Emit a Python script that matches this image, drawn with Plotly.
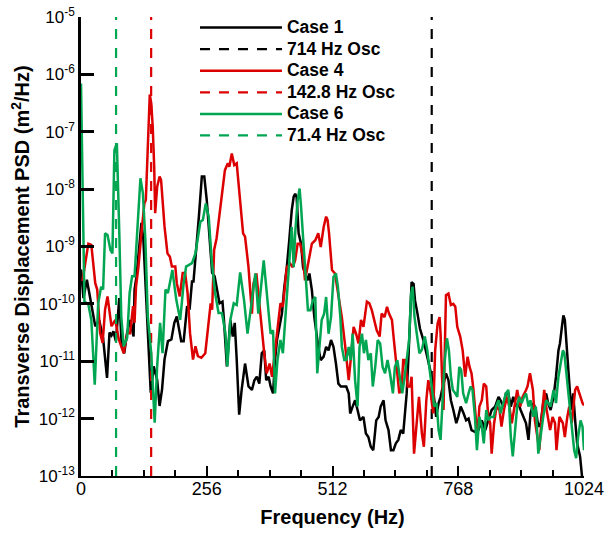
import numpy as np
import plotly.graph_objects as go

# ---------------- data (PSD given as log10 exponents) ----------------
case1_freq = [0, 5, 12, 19, 29, 37, 45, 53, 58, 62, 66, 71, 78, 83, 88, 94, 100, 107, 109, 113, 117, 123, 127, 132, 136,
              142, 148, 155, 160, 165, 170, 177, 184, 190, 195, 204, 209, 216, 221, 226, 229, 234, 240, 246, 251, 256,
              262, 267, 272, 282, 288, 291, 297, 304, 309, 313, 317, 322, 327, 334, 341, 348, 353, 358, 363, 368, 373,
              377, 382, 386, 391, 395, 399, 404, 409, 414, 419, 424, 429, 433, 436, 439, 443, 448, 452, 456, 461, 465,
              470, 475, 479, 483, 488, 494, 499, 504, 509, 514, 519, 524, 529, 534, 540, 545, 548, 553, 558, 563, 568,
              575, 580, 585, 590, 595, 601, 606, 610, 616, 620, 626, 631, 636, 641, 646, 651, 656, 660, 663, 667, 670,
              673, 677, 680, 685, 690, 697, 704, 711, 717, 723, 728, 732, 738, 743, 748, 753, 758, 764, 768, 773, 779,
              784, 789, 795, 802, 809, 816, 823, 829, 836, 843, 850, 854, 860, 865, 870, 875, 880, 886, 890, 895, 901,
              906, 911, 915, 921, 926, 931, 936, 941, 947, 951, 956, 962, 967, 972, 975, 979, 982, 985, 989, 992, 996,
              999, 1002, 1006, 1010, 1016, 1021]
case1_log10_psd = [-9.4, -9.9, -9.58, -9.93, -10.39, -10.28, -10.6, -11.29, -10.5, -10.55, -10.48, -10.65, -9.9, -10.74,
                   -10.86, -10.5, -10.28, -10.57, -9.75, -9.52, -9.12, -8.59, -8.88, -9.75, -10.28, -11.55, -11.09,
                   -11.32, -11.78, -11.49, -10.97, -10.65, -10.62, -10.33, -10.22, -10.65, -10.65, -10.04, -10.1, -9.61,
                   -9.61, -9.12, -8.48, -7.78, -7.78, -8.19, -8.88, -9.46, -9.52, -9.99, -9.96, -10.28, -11.09, -10.28,
                   -10.57, -10.33, -10.97, -11.93, -11.5, -11.04, -11.44, -11.5, -11.33, -11.27, -11.39, -10.86, -10.81,
                   -11.33, -11.27, -11.44, -11.56, -10.98, -10.63, -10.4, -10.17, -9.7, -9.36, -8.89, -8.37, -8.13,
                   -8.08, -8.14, -8.77, -8.95, -9.36, -9.47, -9.59, -9.47, -9.76, -10.23, -10.52, -10.75, -10.98,
                   -10.92, -10.75, -10.81, -10.63, -10.75, -11.04, -11.39, -11.44, -11.44, -11.44, -11.56, -11.91,
                   -11.79, -11.68, -11.85, -12.03, -11.97, -12.26, -12.32, -12.49, -12.55, -12.03, -11.97, -11.79,
                   -11.68, -12.03, -12.2, -12.55, -12.55, -12.43, -12.37, -12.2, -12.26, -11.91, -11.56, -10.86,
                   -10.17, -9.62, -9.65, -9.94, -10.17, -10.43, -10.63, -10.92, -11.15, -11.5, -11.97, -11.73, -11.62,
                   -11.39, -11.21, -11.33, -11.68, -11.85, -12.08, -11.97, -11.79, -11.91, -12.03, -12.0, -12.2,
                   -12.23, -12.2, -12.03, -12.2, -12.03, -11.85, -11.79, -11.62, -11.68, -11.79, -11.56, -11.56,
                   -11.79, -11.62, -11.79, -11.73, -11.85, -11.97, -12.08, -12.37, -11.91, -11.73, -11.85, -12.14,
                   -12.08, -11.73, -11.56, -11.73, -11.85, -11.62, -11.27, -10.81, -10.69, -10.4, -10.2, -10.28,
                   -10.75, -11.27, -11.62, -11.85, -11.56, -12.03, -12.43, -12.66, -13.1]

case4_freq = [3, 9, 15, 21, 29, 33, 39, 44, 49, 54, 58, 62, 66, 70, 77, 82, 87, 94, 100, 106, 109, 112, 117, 123, 129,
              132, 136, 140, 143, 146, 149, 151, 155, 160, 163, 166, 170, 176, 181, 185, 192, 195, 201, 207, 212, 217,
              222, 228, 233, 238, 245, 253, 260, 264, 267, 269, 271, 276, 281, 288, 293, 299, 302, 307, 312, 317, 322,
              327, 330, 334, 341, 348, 351, 357, 361, 368, 373, 378, 384, 389, 393, 399, 406, 411, 419, 426, 431, 436,
              441, 446, 452, 456, 460, 465, 470, 477, 483, 488, 494, 499, 502, 505, 511, 517, 524, 531, 538, 545, 549,
              555, 560, 565, 570, 575, 582, 587, 592, 597, 602, 608, 612, 618, 623, 627, 633, 637, 643, 648, 653, 656,
              660, 665, 670, 673, 678, 684, 688, 694, 698, 703, 707, 712, 717, 721, 726, 730, 732, 735, 738, 743, 748,
              753, 758, 762, 766, 772, 777, 782, 787, 791, 795, 799, 802, 807, 811, 816, 820, 825, 829, 833, 836, 841,
              846, 852, 856, 861, 867, 872, 877, 882, 888, 894, 899, 906, 909, 914, 920, 924, 929, 933, 938, 943, 948,
              955, 960, 965, 968, 974, 981, 985, 990, 994, 999, 1006, 1010, 1016, 1021, 1024]
case4_log10_psd = [-9.6, -9.3, -8.95, -8.97, -9.64, -9.75, -10.51, -10.68, -10.1, -9.87, -10.1, -10.39, -10.33, -10.28,
                   -10.62, -10.74, -10.86, -10.51, -10.51, -10.04, -10.33, -9.7, -9.35, -8.77, -8.25, -8.19, -7.32,
                   -6.35, -6.5, -6.91, -7.61, -8.42, -7.96, -7.78, -7.84, -8.19, -8.65, -9.12, -9.18, -9.35, -9.35,
                   -9.64, -9.87, -9.46, -9.46, -9.81, -10.51, -10.97, -10.74, -10.91, -10.94, -10.86, -10.28, -9.99,
                   -10.1, -9.6, -9.06, -8.86, -8.48, -7.96, -7.67, -7.55, -7.61, -7.38, -7.58, -7.55, -8.0, -8.48,
                   -8.77, -8.83, -9.36, -10.17, -9.65, -9.47, -9.82, -10.52, -10.86, -11.21, -11.04, -11.27, -10.98,
                   -10.52, -9.99, -10.05, -9.36, -9.3, -9.36, -9.24, -8.95, -8.95, -9.18, -9.59, -9.41, -9.18, -8.95,
                   -8.89, -8.77, -9.01, -8.66, -8.48, -8.54, -8.77, -9.41, -9.47, -9.82, -10.23, -10.75, -11.33,
                   -10.98, -10.4, -10.52, -10.69, -10.28, -10.4, -9.96, -9.99, -10.11, -10.28, -10.46, -10.57, -10.17,
                   -10.23, -10.05, -10.17, -10.28, -10.63, -11.1, -11.56, -11.44, -10.98, -10.98, -11.44, -11.44,
                   -11.27, -12.61, -12.03, -11.62, -12.26, -12.49, -11.68, -11.33, -11.56, -11.91, -10.81, -10.34,
                   -10.23, -10.52, -11.27, -11.85, -9.85, -9.82, -10.02, -10.0, -10.05, -10.4, -10.57, -10.81, -11.27,
                   -10.92, -11.1, -11.21, -11.5, -11.85, -12.32, -11.79, -11.68, -11.39, -11.44, -11.97, -12.08,
                   -12.61, -12.08, -11.79, -11.85, -12.14, -11.85, -11.62, -11.79, -12.08, -11.79, -11.5, -11.79,
                   -11.62, -11.5, -11.44, -11.21, -11.5, -12.03, -12.37, -12.55, -11.97, -11.5, -11.85, -12.2, -11.97,
                   -12.08, -12.55, -11.97, -12.08, -12.32, -11.97, -11.79, -12.08, -11.5, -11.44, -11.62, -11.73,
                   -11.77]

case6_freq = [0, 3, 7, 15, 21, 28, 35, 41, 45, 49, 54, 60, 64, 68, 73, 78, 82, 87, 94, 99, 104, 109, 114, 121, 126, 131,
              136, 143, 150, 155, 161, 166, 172, 177, 186, 194, 202, 209, 214, 226, 233, 243, 248, 254, 260, 266, 273,
              280, 287, 294, 298, 304, 311, 317, 324, 332, 339, 348, 355, 361, 366, 372, 377, 382, 386, 391, 395, 400,
              406, 411, 416, 420, 424, 429, 433, 436, 441, 445, 448, 453, 458, 462, 467, 472, 477, 481, 486, 490, 495,
              499, 504, 509, 514, 519, 523, 528, 531, 536, 540, 545, 549, 553, 558, 563, 567, 572, 576, 580, 585, 590,
              594, 599, 604, 609, 614, 619, 624, 629, 635, 639, 644, 650, 654, 658, 663, 668, 672, 675, 679, 684, 689,
              694, 700, 705, 711, 715, 719, 724, 728, 732, 736, 740, 745, 749, 753, 757, 762, 766, 770, 774, 778, 784,
              789, 793, 797, 802, 806, 811, 816, 820, 825, 829, 834, 840, 845, 850, 854, 860, 865, 870, 875, 879, 884,
              888, 892, 897, 902, 906, 911, 915, 921, 926, 931, 936, 941, 947, 951, 956, 962, 967, 972, 977, 981, 984,
              989, 993, 998, 1001, 1004, 1008, 1012, 1017, 1021, 1024]
case6_log10_psd = [-6.16, -7.6, -9.96, -10.01, -10.28, -11.41, -9.99, -9.7, -9.75, -8.77, -8.8, -9.06, -9.12, -7.32,
                   -7.2, -8.77, -10.22, -10.74, -10.59, -9.81, -9.52, -9.52, -8.77, -7.81, -8.07, -8.88, -10.22,
                   -10.86, -12.07, -11.09, -10.33, -10.86, -9.75, -9.81, -9.41, -9.93, -10.28, -9.64, -9.35, -9.29,
                   -9.12, -8.57, -8.54, -8.25, -8.48, -9.23, -9.81, -10.16, -10.16, -10.51, -11.09, -10.28, -9.99,
                   -10.02, -9.45, -9.94, -10.52, -9.94, -9.47, -10.17, -9.7, -9.24, -9.7, -10.17, -10.52, -10.46,
                   -11.56, -10.98, -10.63, -10.86, -10.23, -9.7, -9.24, -8.66, -9.36, -8.77, -8.19, -7.99, -8.31,
                   -8.95, -9.76, -10.11, -10.11, -9.94, -9.88, -11.21, -10.69, -10.28, -10.17, -9.88, -10.52, -10.23,
                   -9.53, -9.47, -9.7, -10.23, -10.75, -10.98, -10.98, -10.75, -10.98, -10.52, -11.33, -11.79, -10.75,
                   -10.52, -10.86, -10.63, -10.98, -10.86, -11.44, -11.1, -10.63, -10.69, -11.1, -11.21, -10.98,
                   -11.21, -11.56, -11.1, -10.98, -11.39, -11.56, -11.33, -10.98, -10.63, -9.82, -9.7, -10.23, -10.52,
                   -10.86, -10.8, -10.57, -10.81, -11.27, -11.56, -11.79, -11.73, -12.2, -12.37, -11.62, -11.04, -10.6,
                   -10.81, -11.27, -11.5, -11.56, -11.62, -11.1, -11.15, -11.56, -11.73, -11.56, -11.44, -11.5,
                   -11.97, -12.55, -11.97, -12.14, -12.43, -11.85, -12.03, -11.97, -11.97, -11.79, -11.68, -11.91,
                   -11.73, -11.56, -11.5, -12.32, -12.66, -12.08, -11.79, -11.62, -11.73, -11.62, -11.56, -11.79,
                   -11.68, -11.97, -11.79, -12.61, -12.26, -11.97, -11.68, -11.73, -11.79, -11.5, -11.73, -11.27,
                   -11.04, -10.81, -10.86, -11.27, -11.62, -11.97, -12.2, -12.55, -12.69, -12.32, -12.03, -12.14,
                   -12.55]

osc_freqs = [714.0, 142.8, 71.4]
osc_labels = ["714 Hz Osc", "142.8 Hz Osc", "71.4 Hz Osc"]
case_labels = ["Case 1", "Case 4", "Case 6"]

x_ticks = [0, 256, 512, 768, 1024]
x_minor_ticks = [64, 128, 192, 320, 384, 448, 576, 640, 704, 832, 896, 960]
y_exponents = [-13, -12, -11, -10, -9, -8, -7, -6, -5]

# ---------------- figure ----------------
BLACK = "#000000"
RED = "#dd0000"
GREEN = "#00a651"
FONT = "Arial, Liberation Sans, sans-serif"


def legend_name(text):
    return '<span style="font-size:17.5px">%s</span>' % text


y_lo, y_hi = 10.0 ** y_exponents[0], 10.0 ** y_exponents[-1]

fig = go.Figure()
series = [
    (case1_freq, case1_log10_psd, case_labels[0], osc_freqs[0], osc_labels[0], BLACK),
    (case4_freq, case4_log10_psd, case_labels[1], osc_freqs[1], osc_labels[1], RED),
    (case6_freq, case6_log10_psd, case_labels[2], osc_freqs[2], osc_labels[2], GREEN),
]
for fr, lg, name, fo, oname, col in series:
    fig.add_trace(go.Scatter(x=fr, y=np.power(10.0, lg), mode="lines", name=legend_name(name),
                             line=dict(color=col, width=2.5)))
    fig.add_trace(go.Scatter(x=[fo, fo], y=[y_lo, y_hi], mode="lines", name=legend_name(oname),
                             line=dict(color=col, width=2.2, dash="10px,9px")))

fig.update_layout(
    width=604, height=533,
    margin=dict(l=81, r=20, t=17, b=57, autoexpand=False),
    paper_bgcolor="white", plot_bgcolor="white",
    font=dict(family=FONT, size=16, color="black"),
    showlegend=True,
    legend=dict(x=0.2266, y=1.0115, xanchor="left", yanchor="top",
                bgcolor="rgba(0,0,0,0)", borderwidth=0,
                font=dict(family=FONT, size=14.3, color="black", weight="bold"),
                itemwidth=82, tracegroupgap=0),
)

fig.update_xaxes(
    automargin=True,
    range=[0, 1024], tickvals=x_ticks, ticktext=[str(t) for t in x_ticks],
    ticks="inside", ticklen=10, tickwidth=2, tickcolor="black",
    minor=dict(tickvals=x_minor_ticks, ticks="inside", ticklen=6, tickwidth=1.5, tickcolor="black"),
    showline=True, linewidth=2, linecolor="black", mirror=False,
    showgrid=False, zeroline=False, ticklabelstandoff=-5, ticklabeloverflow="allow",
    tickfont=dict(family=FONT, size=18, color="black"),
    title=dict(text="Frequency (Hz)", font=dict(family=FONT, size=20, color="black", weight="bold"),
               standoff=12),
)
fig.update_yaxes(
    automargin=True,
    type="log", range=[y_exponents[0], y_exponents[-1]],
    tickvals=[10.0 ** e for e in y_exponents],
    ticktext=["10<sup>%d</sup>" % e for e in y_exponents],
    ticks="inside", ticklen=13, tickwidth=2.5, tickcolor="black",
    showline=True, linewidth=2.5, linecolor="black", mirror=False,
    showgrid=False, zeroline=False, ticklabeloverflow="allow",
    tickfont=dict(family=FONT, size=17, color="black"),
    title=dict(text="Transverse Displacement PSD (m<sup>2</sup>/Hz)",
               font=dict(family=FONT, size=20, color="black", weight="bold"), standoff=4),
)

fig.write_html("out.html", config={"displayModeBar": False},
               post_script="document.body.style.margin='0px';document.body.style.overflow='hidden';")
